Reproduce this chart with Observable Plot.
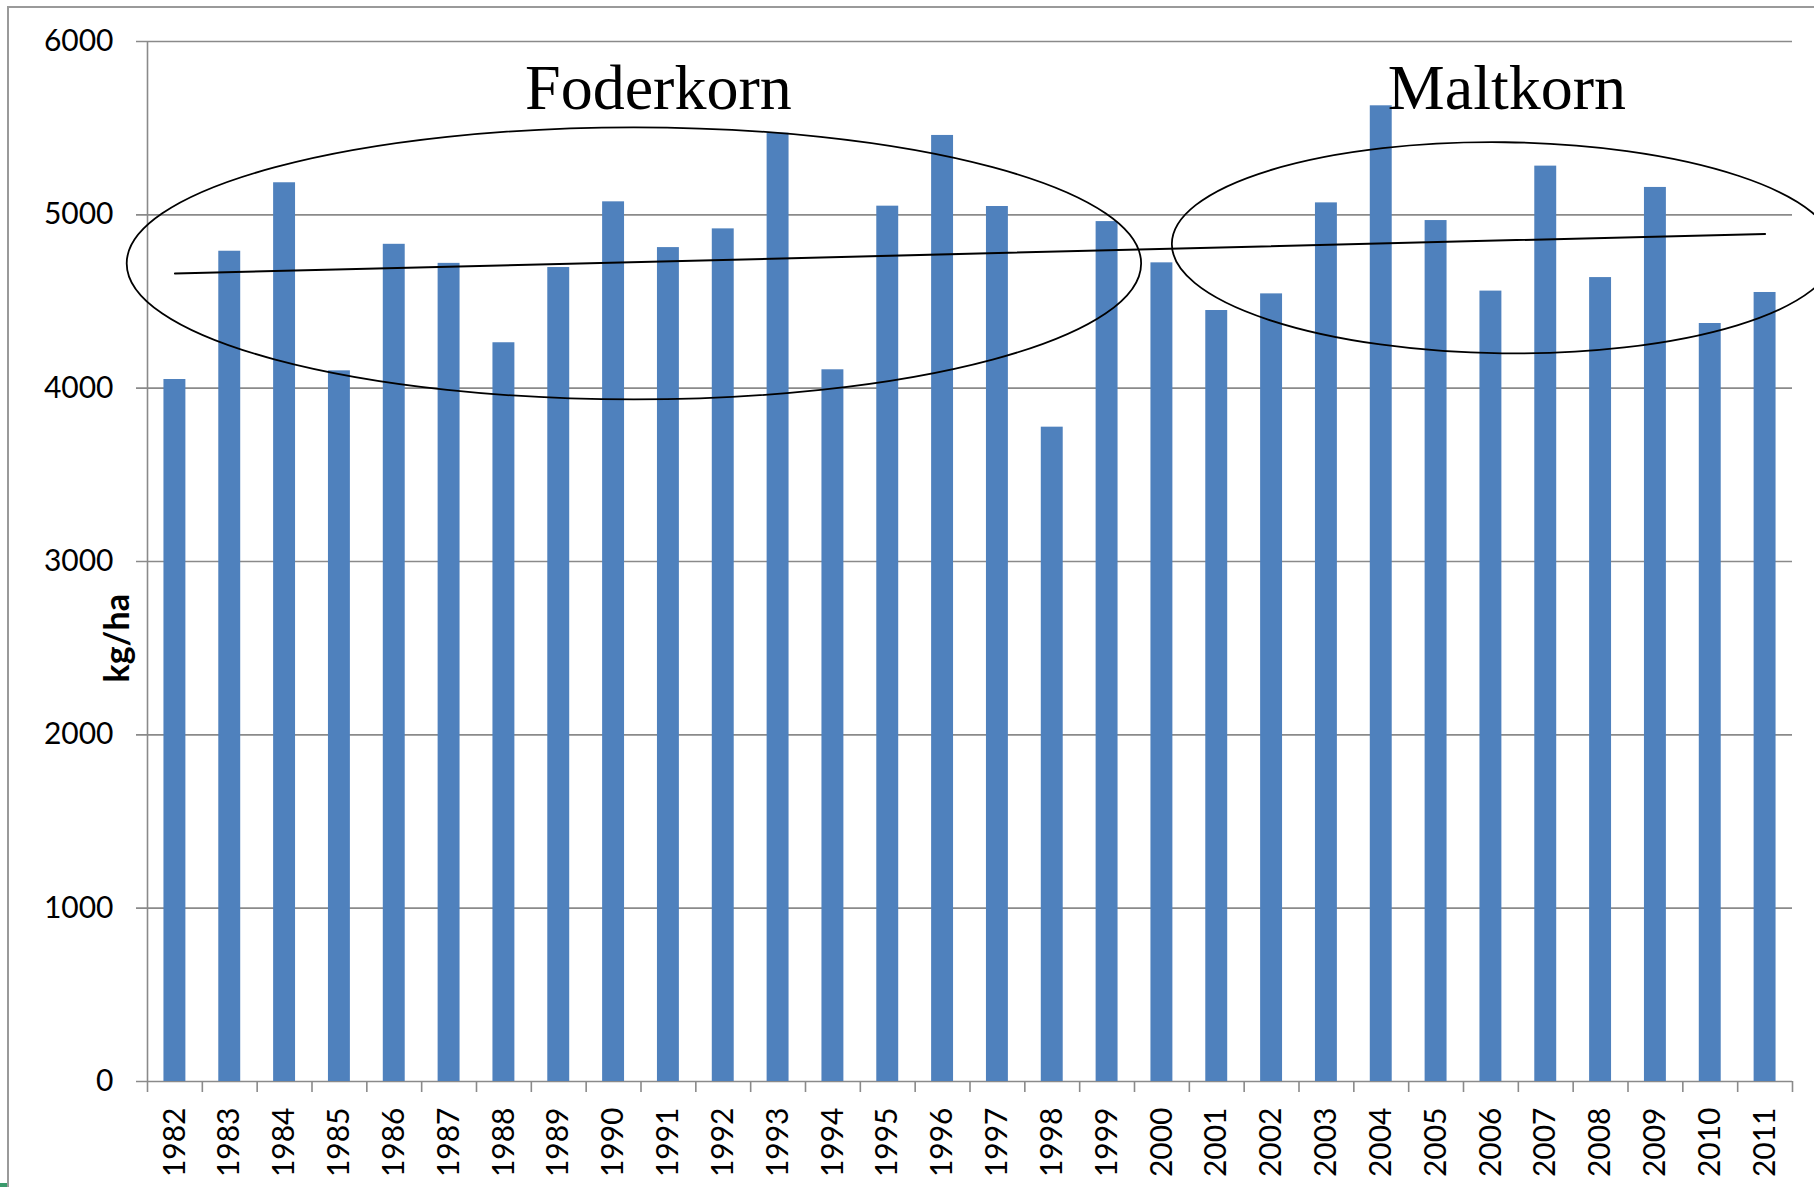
<!DOCTYPE html>
<html>
<head>
<meta charset="utf-8">
<script src="https://cdn.jsdelivr.net/npm/d3@7"></script>
<script src="https://cdn.jsdelivr.net/npm/@observablehq/plot@0.6"></script>
<style>
html, body { margin: 0; padding: 0; background: #fff; }
#wrap { position: relative; width: 1814px; height: 1187px; overflow: hidden; background: #fff; }
#wrap svg { position: absolute; left: 0; top: 0; }
#border { position: absolute; left: 7px; top: 6px; right: -10px; bottom: -10px; border-left: 2px solid #9a9a9a; border-top: 2px solid #9a9a9a; pointer-events: none; }
#corner { position: absolute; left: 0; top: 1183px; width: 7px; height: 4px; background: #3a9a6c; }
</style>
</head>
<body>
<div id="wrap"><div id="border"></div><div id="corner"></div></div>
<script>
// ---- data ----
const years = ["1982","1983","1984","1985","1986","1987","1988","1989","1990","1991",
               "1992","1993","1994","1995","1996","1997","1998","1999","2000","2001",
               "2002","2003","2004","2005","2006","2007","2008","2009","2010","2011"];
const yields = [4050, 4790, 5185, 4100, 4830, 4720, 4262, 4696, 5075, 4811,
                4919, 5471, 4106, 5050, 5458, 5048, 3775, 4961, 4723, 4448,
                4544, 5069, 5629, 4967, 4560, 5281, 4638, 5158, 4373, 4552];
const yTicks = [0, 1000, 2000, 3000, 4000, 5000, 6000];
const yLabel = "kg/ha";

// trend line end points
const trendYears = ["1982", "2011"];
const trendValues = [4661, 4890];

// group annotations
const groupNames = ["Foderkorn", "Maltkorn"];
const groupTextYears = ["1991", "2006"];
const groupTextValues = [5612, 5612];
const groupEllipseYears = [1990.38, 2006.24];     // centre (fractional year)
const groupEllipseValues = [4717, 4807];          // centre value
const groupEllipseHalfYears = [9.25, 6.05];       // half width in years
const groupEllipseHalfValues = [785, 609];        // half height in kg/ha
const groupEllipseTilt = [0, 0.7];                // degrees

// ---- tables ----
const data = years.map((year, i) => ({year, value: yields[i]}));
const trend = trendYears.map((year, i) => ({year, value: trendValues[i]}));

// ---- layout ----
const W = 1814, H = 1187;
const mL = 147, mR = 22, mT = 41, mB = 106;
const step = (W - mL - mR) / years.length;
const gridColor = "#8a8a8a";

function groupEllipses(index, scales) {
  const x = scales.x, y = scales.y;
  const bw = typeof x.bandwidth === "function" ? x.bandwidth() : 0;
  const st = x(years[1]) - x(years[0]);
  const c0 = x(years[0]) + bw / 2;
  const g = d3.create("svg:g");
  groupNames.forEach((name, i) => {
    const cx = c0 + (groupEllipseYears[i] - +years[0]) * st;
    const rx = groupEllipseHalfYears[i] * st;
    const cy = y(groupEllipseValues[i]);
    const ry = y(groupEllipseValues[i] - groupEllipseHalfValues[i]) - cy;
    g.append("ellipse")
      .attr("cx", cx).attr("cy", cy).attr("rx", rx).attr("ry", ry)
      .attr("transform", `rotate(${groupEllipseTilt[i]},${cx},${cy})`)
      .attr("fill", "none").attr("stroke", "#000").attr("stroke-width", 1.8);
  });
  return g.node();
}

const chart = Plot.plot({
  width: W, height: H,
  marginLeft: mL, marginRight: mR, marginTop: mT, marginBottom: mB,
  style: {fontFamily: "Lato, 'Open Sans', sans-serif", fontSize: "30px", color: "#000", background: "transparent", overflow: "visible"},
  x: {type: "band", domain: years, paddingInner: 0.6, paddingOuter: 0.3, round: false, label: null, axis: null},
  y: {domain: [0, 6000], label: null, axis: null},
  marks: [
    Plot.ruleY(yTicks, {stroke: gridColor, strokeWidth: 1.6, insetLeft: -11}),
    Plot.ruleX([years[0]], {dx: -step / 2, stroke: gridColor, strokeWidth: 1.6}),
    Plot.barY(data, {x: "year", y: "value", fill: "#4F81BD"}),
    // category boundary ticks
    Plot.axisX({tickSize: 11, tickFormat: () => "", stroke: gridColor, strokeWidth: 1.6, dx: -step / 2}),
    Plot.axisX([years[years.length - 1]], {tickSize: 11, tickFormat: () => "", stroke: gridColor, strokeWidth: 1.6, dx: step / 2}),
    // year labels
    Plot.axisX({tickSize: 0, tickPadding: 26, tickRotate: -90, fontSize: 30, fill: "#000"}),
    // value labels
    Plot.axisY({ticks: yTicks, tickSize: 0, tickPadding: 34, tickFormat: d => String(d), fontSize: 30, fill: "#000"}),
    Plot.text([yLabel], {frameAnchor: "left", dx: -29, dy: 121, rotate: -90, fontWeight: "bold", fontSize: 34, fill: "#000"}),
    // trend line
    Plot.line(trend, {x: "year", y: "value", stroke: "#000", strokeWidth: 2}),
    // group annotations
    groupEllipses,
    Plot.text([0], {x: () => groupTextYears[0], y: () => groupTextValues[0], text: () => groupNames[0], dx: -10,
      lineAnchor: "bottom", fontFamily: "'Liberation Serif', 'Times New Roman', serif", fontSize: 64, fill: "#000"}),
    Plot.text([1], {x: () => groupTextYears[1], y: () => groupTextValues[1], text: () => groupNames[1], dx: 16,
      lineAnchor: "bottom", fontFamily: "'Liberation Serif', 'Times New Roman', serif", fontSize: 64, fill: "#000"})
  ]
});
document.getElementById("wrap").prepend(chart);
</script>
</body>
</html>
